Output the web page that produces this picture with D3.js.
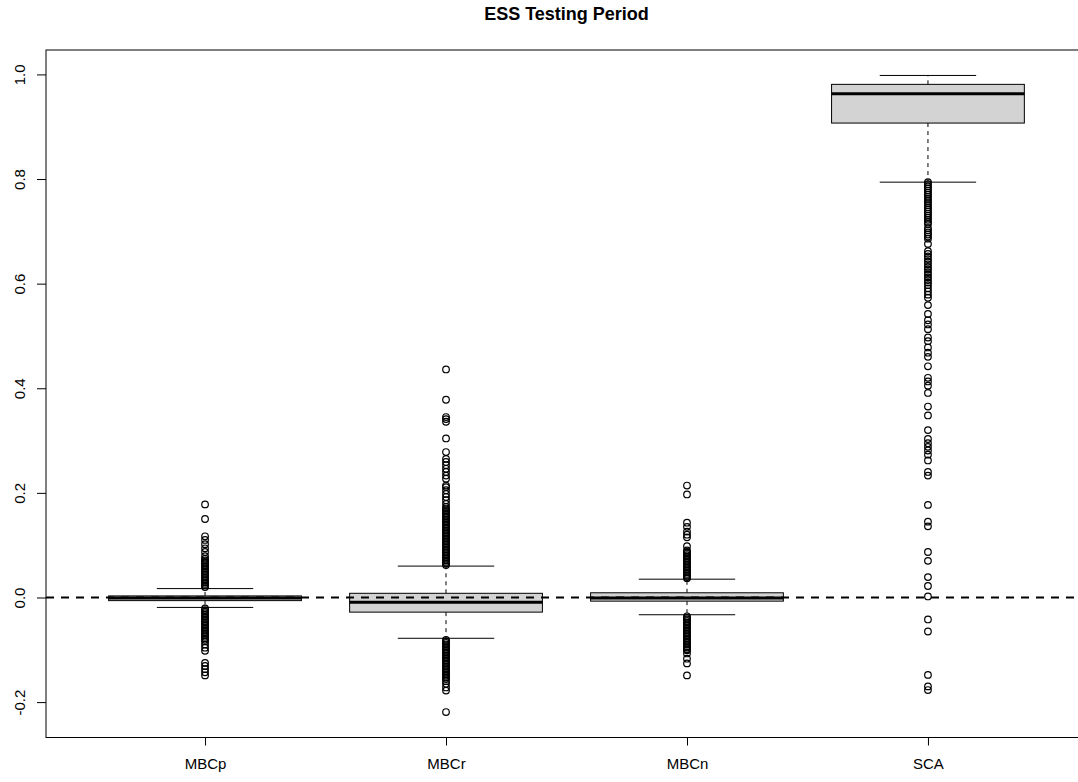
<!DOCTYPE html>
<html>
<head>
<meta charset="utf-8">
<script src="https://cdn.jsdelivr.net/npm/d3@7"></script>
<style>
  body { margin: 0; background: #fff; }
  svg text { font-family: "Liberation Sans", Arial, sans-serif; fill: #000; }
</style>
</head>
<body>
<div id="chart"></div>
<script>
// box statistics
var categories = ["MBCp", "MBCr", "MBCn", "SCA"];
var q1 = [-0.006, -0.028, -0.007, 0.907];
var medians = [-0.001, -0.009, -0.001, 0.963];
var q3 = [0.003, 0.008, 0.009, 0.981];
var whiskLo = [-0.019, -0.078, -0.033, 0.794];
var whiskHi = [0.017, 0.060, 0.035, 0.998];

// outliers per group
var outMBCp = [0.178, 0.150, 0.117, 0.110, 0.102, 0.094, 0.087, 0.079,
  0.074, 0.071, 0.068, 0.065, 0.062, 0.059, 0.056, 0.053, 0.050, 0.047, 0.044,
  0.041, 0.038, 0.035, 0.032, 0.029, 0.026, 0.023, 0.020,
  -0.021, -0.024, -0.027, -0.030, -0.033, -0.036, -0.039, -0.042, -0.045,
  -0.048, -0.051, -0.054, -0.057, -0.060, -0.063, -0.066, -0.069, -0.072,
  -0.075, -0.078, -0.081, -0.084, -0.090, -0.096, -0.102,
  -0.125, -0.131, -0.137, -0.143, -0.149];
var outMBCr = [0.436, 0.378, 0.345, 0.341, 0.336, 0.304, 0.278, 0.265, 0.259,
  0.253, 0.246, 0.240, 0.233, 0.227, 0.214, 0.211, 0.205, 0.198, 0.192, 0.186,
  0.179, 0.173, 0.170, 0.167, 0.164, 0.161, 0.158, 0.155, 0.152, 0.149, 0.146,
  0.143, 0.140, 0.137, 0.134, 0.131, 0.128, 0.125, 0.122, 0.119, 0.116, 0.113,
  0.110, 0.107, 0.104, 0.101, 0.098, 0.095, 0.092, 0.089, 0.086, 0.083, 0.080,
  0.077, 0.074, 0.071, 0.068, 0.065, 0.062,
  -0.081, -0.084, -0.087, -0.090, -0.093, -0.096, -0.099, -0.102, -0.105,
  -0.108, -0.111, -0.114, -0.117, -0.120, -0.123, -0.126, -0.129, -0.132,
  -0.135, -0.138, -0.141, -0.144, -0.147, -0.150, -0.153, -0.156,
  -0.160, -0.165, -0.172, -0.178, -0.219];
var outMBCn = [0.214, 0.197, 0.143, 0.135, 0.126, 0.120, 0.115, 0.098,
  0.090, 0.087, 0.084, 0.081, 0.078, 0.075, 0.072, 0.069, 0.066, 0.063, 0.060,
  0.057, 0.054, 0.051, 0.048, 0.045, 0.042, 0.039, 0.037,
  -0.036, -0.039, -0.042, -0.045, -0.048, -0.051, -0.054, -0.057, -0.060,
  -0.063, -0.066, -0.069, -0.072, -0.075, -0.078, -0.081, -0.084, -0.087,
  -0.090, -0.093, -0.096, -0.099, -0.101, -0.107, -0.117, -0.126, -0.149];
var outSCA = [0.794, 0.790, 0.786, 0.782, 0.778, 0.774, 0.770, 0.766, 0.762,
  0.758, 0.754, 0.750, 0.746, 0.742, 0.738, 0.734, 0.730, 0.726, 0.722, 0.718,
  0.714, 0.706, 0.702, 0.698, 0.694, 0.690, 0.686, 0.676,
  0.662, 0.657, 0.652, 0.647, 0.642, 0.637, 0.632, 0.627, 0.622, 0.617, 0.612,
  0.607, 0.602, 0.597, 0.591, 0.585, 0.579, 0.573,
  0.559, 0.542, 0.530, 0.522, 0.513, 0.497, 0.490, 0.478, 0.468, 0.460, 0.442,
  0.420, 0.413, 0.405, 0.391, 0.365, 0.348, 0.320, 0.303, 0.295, 0.288, 0.281,
  0.273, 0.262, 0.240, 0.233, 0.177, 0.145, 0.136, 0.087, 0.070, 0.039, 0.022,
  0.002, -0.042, -0.065, -0.148, -0.170, -0.177];
var outliers = [outMBCp, outMBCr, outMBCn, outSCA];

var yTicks = [-0.2, 0.0, 0.2, 0.4, 0.6, 0.8, 1.0];
var title = "ESS Testing Period";

var W = 1078, H = 782;
var mLeft = 46, mTop = 50, mBottom = 737.5, mRight = 1087;

var svg = d3.select("#chart").append("svg")
    .attr("width", W)
    .attr("height", H);

// R style: data range extended by 4% on each side
var allVals = d3.merge([whiskLo, whiskHi].concat(outliers));
var lo = d3.min(allVals), hi = d3.max(allVals);
var pad = (hi - lo) * 0.04;
var y = d3.scaleLinear().domain([lo - pad, hi + pad]).range([mBottom, mTop]);
var x = d3.scaleLinear().domain([0.5 - 0.16, categories.length + 0.5 + 0.16]).range([mLeft, mRight]);

var boxW = x(1.4) - x(1);     // half width of box (boxwex 0.8)
var stapW = boxW / 2;

var plot = svg.append("g");

categories.forEach(function (c, i) {
    var cx = x(i + 1);
    var g = plot.append("g");

    // whiskers
    g.append("line")
        .attr("x1", cx).attr("x2", cx)
        .attr("y1", y(q3[i])).attr("y2", y(whiskHi[i]))
        .attr("stroke", "#000").attr("stroke-dasharray", "4,4");
    g.append("line")
        .attr("x1", cx).attr("x2", cx)
        .attr("y1", y(q1[i])).attr("y2", y(whiskLo[i]))
        .attr("stroke", "#000").attr("stroke-dasharray", "4,4");

    // staples
    [whiskHi[i], whiskLo[i]].forEach(function (v) {
        g.append("line")
            .attr("x1", cx - stapW).attr("x2", cx + stapW)
            .attr("y1", y(v)).attr("y2", y(v))
            .attr("stroke", "#000");
    });

    // box
    g.append("rect")
        .attr("x", cx - boxW)
        .attr("width", boxW * 2)
        .attr("y", y(q3[i]))
        .attr("height", y(q1[i]) - y(q3[i]))
        .attr("fill", "#d3d3d3")
        .attr("stroke", "#000");

    // median
    g.append("line")
        .attr("x1", cx - boxW).attr("x2", cx + boxW)
        .attr("y1", y(medians[i])).attr("y2", y(medians[i]))
        .attr("stroke", "#000").attr("stroke-width", 3);

    // outliers
    g.selectAll("circle.out")
        .data(outliers[i])
        .enter().append("circle")
        .attr("class", "out")
        .attr("cx", cx)
        .attr("cy", function (d) { return y(d); })
        .attr("r", 3.3)
        .attr("fill", "none")
        .attr("stroke", "#000")
        .attr("stroke-width", 1.2);
});

// reference line at zero
svg.append("line")
    .attr("x1", mLeft).attr("x2", mRight)
    .attr("y1", y(0)).attr("y2", y(0))
    .attr("stroke", "#000")
    .attr("stroke-width", 2)
    .attr("stroke-dasharray", "8,7");

// y axis
var yAxis = svg.append("g")
    .attr("transform", "translate(" + mLeft + ",0)")
    .call(d3.axisLeft(y).tickValues(yTicks)
        .tickFormat(function (d) { return d.toFixed(1); })
        .tickSize(9).tickSizeOuter(0));
yAxis.select(".domain").remove();
yAxis.selectAll("line").attr("stroke", "#000");
yAxis.selectAll("text")
    .attr("x", null).attr("dy", null)
    .attr("text-anchor", "middle")
    .attr("transform", "translate(-21,0) rotate(-90)")
    .style("font-size", "15px")
    .style("font-family", "'Liberation Sans', Arial, sans-serif");

// x axis
var xAxis = svg.append("g")
    .attr("transform", "translate(0," + mBottom + ")")
    .call(d3.axisBottom(x).tickValues(d3.range(1, categories.length + 1))
        .tickFormat(function (d) { return categories[d - 1]; })
        .tickSize(8).tickSizeOuter(0));
xAxis.select(".domain").remove();
xAxis.selectAll("line").attr("stroke", "#000");
xAxis.selectAll("text")
    .attr("y", 31.5).attr("dy", null)
    .style("font-size", "15px")
    .style("font-family", "'Liberation Sans', Arial, sans-serif");

// plot frame
svg.append("rect")
    .attr("x", mLeft).attr("y", mTop)
    .attr("width", mRight - mLeft).attr("height", mBottom - mTop)
    .attr("fill", "none").attr("stroke", "#000");

svg.append("text")
    .attr("x", (mLeft + mRight) / 2)
    .attr("y", 20)
    .attr("text-anchor", "middle")
    .style("font-size", "18px")
    .style("font-weight", "bold")
    .text(title);
</script>
</body>
</html>
